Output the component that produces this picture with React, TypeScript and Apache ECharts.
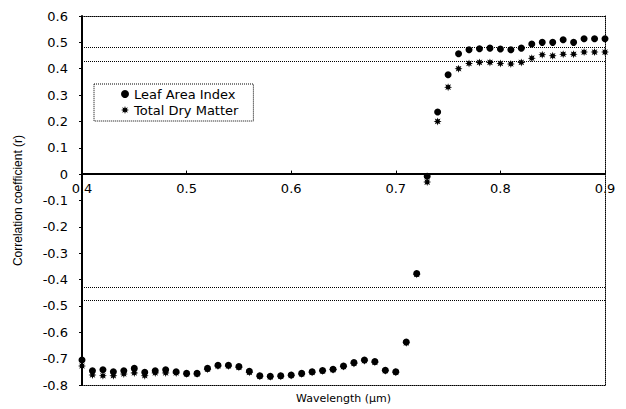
import React, { useEffect, useRef } from "react";
import * as echarts from "echarts";

const wavelengths = [
  0.40, 0.41, 0.42, 0.43, 0.44, 0.45, 0.46, 0.47, 0.48, 0.49,
  0.50, 0.51, 0.52, 0.53, 0.54, 0.55, 0.56, 0.57, 0.58, 0.59,
  0.60, 0.61, 0.62, 0.63, 0.64, 0.65, 0.66, 0.67, 0.68, 0.69,
  0.70, 0.71, 0.72, 0.73, 0.74, 0.75, 0.76, 0.77, 0.78, 0.79,
  0.80, 0.81, 0.82, 0.83, 0.84, 0.85, 0.86, 0.87, 0.88, 0.89, 0.90,
];

const leafAreaIndex = [
  -0.705, -0.746, -0.742, -0.750, -0.746, -0.737, -0.752, -0.746, -0.742, -0.750,
  -0.756, -0.756, -0.737, -0.725, -0.725, -0.730, -0.748, -0.765, -0.767, -0.765,
  -0.762, -0.756, -0.750, -0.745, -0.740, -0.728, -0.715, -0.705, -0.711, -0.744,
  -0.750, -0.637, -0.377, -0.008, 0.236, 0.377, 0.457, 0.472, 0.476, 0.478,
  0.475, 0.472, 0.478, 0.494, 0.500, 0.500, 0.510, 0.500, 0.514, 0.514, 0.514,
];

const totalDryMatter = [
  -0.728, -0.762, -0.765, -0.765, -0.758, -0.754, -0.765, -0.754, -0.754, -0.754,
  -0.758, -0.758, -0.740, -0.728, -0.728, -0.733, -0.752, -0.767, -0.769, -0.767,
  -0.764, -0.758, -0.752, -0.747, -0.742, -0.730, -0.718, -0.708, -0.714, -0.746,
  -0.752, -0.640, -0.380, -0.030, 0.200, 0.330, 0.400, 0.420, 0.424, 0.424,
  0.420, 0.418, 0.424, 0.440, 0.453, 0.449, 0.455, 0.455, 0.463, 0.463, 0.463,
];

const significanceLevels = [0.483, 0.427, -0.433, -0.485];

const seriesNames = ["Leaf Area Index", "Total Dry Matter"];
const xTitle = "Wavelength (µm)";
const yTitle = "Correlation coefficient (r)";

const Y_MIN = -0.8;
const Y_MAX = 0.6;

function asteriskPath(): string {
  const pts: string[] = [];
  const n = 8;
  for (let i = 0; i < n * 2; i++) {
    const r = i % 2 === 0 ? 10 : 5;
    const a = (Math.PI * i) / n;
    const x = 10 + r * Math.cos(a);
    const y = 10 + r * Math.sin(a);
    pts.push((i === 0 ? "M" : "L") + x.toFixed(2) + " " + y.toFixed(2));
  }
  return "path://" + pts.join(" ") + " Z";
}

const SANS = "Liberation Sans, Arial, sans-serif";
const WIDE = "DejaVu Sans, Verdana, sans-serif";

const GRID_TOP = 16;
const GRID_BOTTOM = 23;
const H = 409;

export default function App() {
  const ref = useRef<HTMLDivElement>(null);
  useEffect(() => {
    if (!ref.current) return;
    const chart = echarts.init(ref.current, undefined, { renderer: "svg" });
    const star = asteriskPath();
    const lai = wavelengths.map((w, i) => [w, leafAreaIndex[i]]);
    const tdm = wavelengths.map((w, i) => [w, totalDryMatter[i]]);
    const dotted = { color: "#000", width: 1, type: "dotted" as const };
    const gridH = H - GRID_TOP - GRID_BOTTOM;
    const zeroFromBottom = (gridH * (0 - Y_MIN)) / (Y_MAX - Y_MIN);
    chart.setOption({
      animation: false,
      backgroundColor: "#fff",
      textStyle: { fontFamily: SANS },
      grid: { left: 82, right: 21, top: GRID_TOP, bottom: GRID_BOTTOM, containLabel: false },
      legend: {
        orient: "vertical",
        left: 94,
        top: 84,
        padding: [3, 15, 4, 27],
        itemGap: 2,
        itemWidth: 8,
        itemHeight: 8,
        borderColor: "#000",
        borderWidth: 1,
        borderType: "dotted",
        textStyle: { fontSize: 13, color: "#000", fontFamily: WIDE, lineHeight: 14 },
        data: [
          { name: seriesNames[0], icon: "circle" },
          { name: seriesNames[1], icon: star },
        ],
      },
      xAxis: [
        {
          type: "value",
          min: 0.4,
          max: 0.9,
          interval: 0.1,
          offset: -zeroFromBottom,
          axisLine: { onZero: false, lineStyle: { color: "#000", width: 2 } },
          axisTick: { inside: true, length: 3, lineStyle: { color: "#000" } },
          axisLabel: {
            margin: 8,
            fontSize: 13,
            color: "#000",
            fontFamily: WIDE,
            formatter: (v: number) => v.toFixed(1),
          },
          splitLine: { show: false },
        },
        {
          type: "value",
          position: "bottom",
          min: 0.4,
          max: 0.9,
          axisLine: { onZero: false, lineStyle: dotted },
          axisTick: { show: false },
          axisLabel: { show: false },
          splitLine: { show: false },
          name: xTitle,
          nameLocation: "middle",
          nameGap: 8,
          nameTextStyle: { fontSize: 11, color: "#000", fontFamily: WIDE, verticalAlign: "top" },
        },
        {
          type: "value",
          position: "top",
          min: 0.4,
          max: 0.9,
          axisLine: { onZero: false, lineStyle: dotted },
          axisTick: { show: false },
          axisLabel: { show: false },
          splitLine: { show: false },
        },
      ],
      yAxis: [
        {
          type: "value",
          min: Y_MIN,
          max: Y_MAX,
          interval: 0.1,
          axisLine: { onZero: false, lineStyle: { color: "#000", width: 2 } },
          axisTick: { length: 3, lineStyle: { color: "#000" } },
          axisLabel: {
            margin: 14,
            fontSize: 13,
            color: "#000",
            fontFamily: WIDE,
            formatter: (v: number) => (Math.abs(v) < 1e-9 ? "0" : v.toFixed(1)),
          },
          splitLine: { show: false },
          name: yTitle,
          nameLocation: "middle",
          nameGap: 58,
          nameTextStyle: { fontSize: 12, color: "#000", fontFamily: SANS },
        },
        {
          type: "value",
          position: "right",
          min: Y_MIN,
          max: Y_MAX,
          axisLine: { onZero: false, lineStyle: dotted },
          axisTick: { show: false },
          axisLabel: { show: false },
          splitLine: { show: false },
        },
      ],
      series: [
        {
          name: seriesNames[0],
          type: "scatter",
          data: lai,
          symbol: "circle",
          symbolSize: 7,
          itemStyle: { color: "#000", opacity: 1 },
          z: 3,
          markLine: {
            silent: true,
            symbol: "none",
            label: { show: false },
            lineStyle: { color: "#000", width: 1, type: "dotted", opacity: 1 },
            data: significanceLevels.map((v) => ({ yAxis: v })),
          },
        },
        {
          name: seriesNames[1],
          type: "scatter",
          data: tdm,
          symbol: star,
          symbolSize: 8,
          itemStyle: { color: "#000", opacity: 1 },
          z: 4,
        },
      ],
    });
    return () => chart.dispose();
  }, []);
  return (
    <div
      ref={ref}
      style={{ position: "absolute", left: 0, top: 0, width: 626, height: 409 }}
    />
  );
}
